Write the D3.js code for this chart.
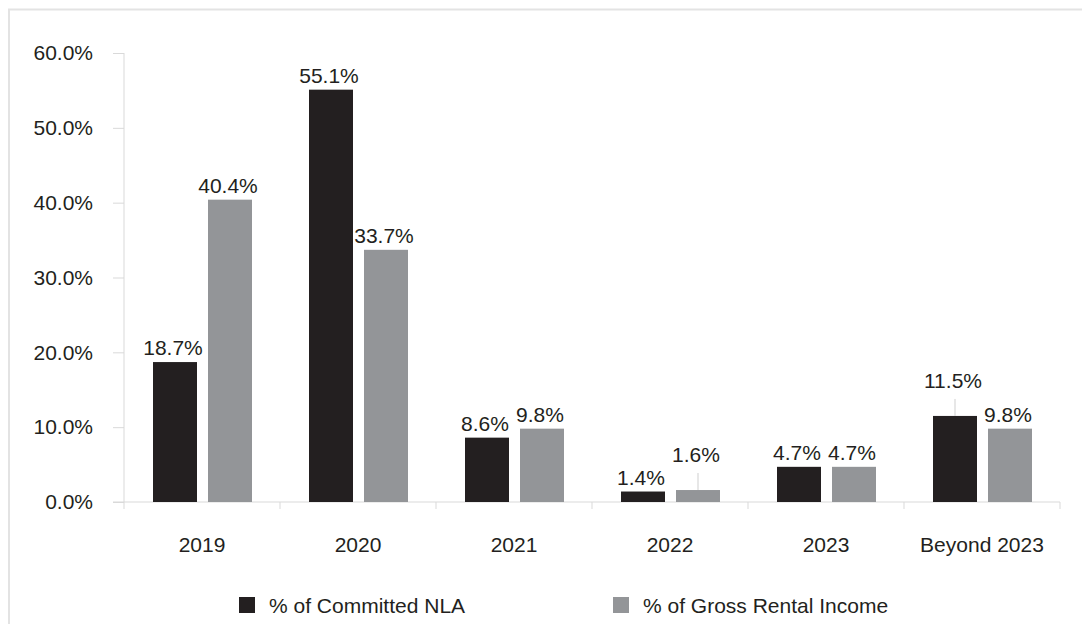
<!DOCTYPE html>
<html>
<head>
<meta charset="utf-8">
<script src="https://cdn.jsdelivr.net/npm/d3@7"></script>
<style>
  html, body { margin: 0; padding: 0; background: #fff; }
  svg { display: block; }
  text { font-family: "Liberation Sans", Arial, Helvetica, sans-serif; fill: #231f20; }
</style>
</head>
<body>
<svg id="chart" width="1082" height="624"></svg>
<script>
const categories = ["2019", "2020", "2021", "2022", "2023", "Beyond 2023"];
const committedNLA = [18.7, 55.1, 8.6, 1.4, 4.7, 11.5];
const grossRentalIncome = [40.4, 33.7, 9.8, 1.6, 4.7, 9.8];
const yTicks = [0, 10, 20, 30, 40, 50, 60];
const seriesNames = ["% of Committed NLA", "% of Gross Rental Income"];
const seriesKeys = ["nla", "gri"];
const colors = ["#231f20", "#939598"];
// labels drawn raised with a leader line: [category, series key]
const leaderLabels = [["2022", "gri"], ["Beyond 2023", "nla"]];

const svg = d3.select("#chart");

// frame
svg.append("path")
  .attr("d", "M9,624 V9.5 H1082")
  .attr("fill", "none").attr("stroke", "#e3e3e3").attr("stroke-width", 2);

const x = d3.scaleBand().domain(categories).range([124, 1060]).padding(0);
const xs = d3.scaleBand().domain(seriesKeys).range([29, 128]).paddingInner(0.2).paddingOuter(0);
const y = d3.scaleLinear().domain([0, 60]).range([502, 53]);

const axisColor = "#d9d9d9";

// y axis
const yAxis = svg.append("g").attr("transform", "translate(124,0)")
  .call(d3.axisLeft(y).tickValues(yTicks).tickSize(11).tickPadding(20)
    .tickFormat(d => d.toFixed(1) + "%"));
yAxis.select(".domain").attr("stroke", axisColor).attr("d", "M0,53V502");
yAxis.selectAll(".tick line").attr("stroke", axisColor);
yAxis.selectAll(".tick text").attr("font-size", 21).attr("fill", "#231f20")
  .style("font-family", '"Liberation Sans", Arial, sans-serif');

// x axis
const xAxis = svg.append("g").attr("transform", "translate(0,502)")
  .call(d3.axisBottom(x).tickSize(0).tickPadding(35));
xAxis.select(".domain").attr("stroke", axisColor).attr("d", "M113,0H1060");
xAxis.selectAll(".tick text").attr("font-size", 21).attr("fill", "#231f20")
  .style("font-family", '"Liberation Sans", Arial, sans-serif');
// category boundary ticks
const bounds = categories.map(c => x(c)).concat([x(categories[categories.length - 1]) + x.bandwidth()]);
svg.append("g").selectAll("line").data(bounds).join("line")
  .attr("x1", d => d).attr("x2", d => d)
  .attr("y1", 502).attr("y2", 509)
  .attr("stroke", axisColor);

// data
const rows = categories.map((c, i) => ({ cat: c, nla: committedNLA[i], gri: grossRentalIncome[i] }));
const flat = [];
rows.forEach(r => seriesKeys.forEach((k, si) => flat.push({ cat: r.cat, key: k, si, v: r[k] })));

svg.append("g").selectAll("rect").data(flat).join("rect")
  .attr("x", d => x(d.cat) + xs(d.key))
  .attr("y", d => y(d.v))
  .attr("width", xs.bandwidth())
  .attr("height", d => y(0) - y(d.v))
  .attr("fill", d => colors[d.si]);

const isLifted = d => leaderLabels.some(l => l[0] === d.cat && l[1] === d.key);
const lift = 21;

svg.append("g").selectAll("line").data(flat.filter(isLifted)).join("line")
  .attr("x1", d => x(d.cat) + xs(d.key) + xs.bandwidth() / 2)
  .attr("x2", d => x(d.cat) + xs(d.key) + xs.bandwidth() / 2)
  .attr("y1", d => y(d.v) - lift + 4)
  .attr("y2", d => y(d.v))
  .attr("stroke", "#cfcfcf");

svg.append("g").selectAll("text").data(flat).join("text")
  .attr("x", d => x(d.cat) + xs(d.key) + xs.bandwidth() / 2 - 2)
  .attr("y", d => y(d.v) - 7 - (isLifted(d) ? lift : 0))
  .attr("text-anchor", "middle")
  .attr("font-size", 21)
  .text(d => d.v.toFixed(1) + "%");

// legend
const legendX = [239, 613];
const lg = svg.append("g").selectAll("g").data(seriesNames).join("g")
  .attr("transform", (d, i) => `translate(${legendX[i]},597)`);
lg.append("rect").attr("width", 16).attr("height", 16).attr("fill", (d, i) => colors[i]);
lg.append("text").attr("x", 30).attr("y", 16).attr("font-size", 21).text(d => d);
</script>
</body>
</html>
